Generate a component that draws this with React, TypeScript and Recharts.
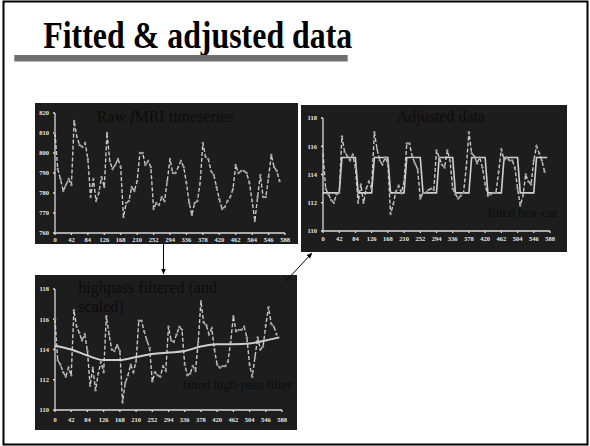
import { LineChart, Line, XAxis, YAxis } from "recharts";

// scan grid: one volume every 7 s
const SCAN_STEP = 7;
const xTicks = [0, 42, 84, 126, 168, 210, 252, 294, 336, 378, 420, 462, 504, 546, 588];
const rawTicks = [760, 770, 780, 790, 800, 810, 820];
const scaledTicks = [110, 112, 114, 116, 118];

const rawValues = [
  810, 792, 787, 781, 784, 787, 784, 816, 808, 804,
  803, 805, 797, 778, 787, 776, 780, 788, 783, 810,
  796, 792, 794, 797, 793, 768, 775, 776, 783, 781,
  786, 800, 800, 794, 796, 793, 772, 775, 774, 778,
  776, 786, 797, 790, 790, 793, 796, 793, 785, 775,
  769, 775, 776, 785, 805, 798, 797, 791, 789, 783,
  777, 772, 773, 776, 778, 782, 794, 790, 791, 791,
  790, 785, 776, 766, 778, 789, 778, 778, 788, 799,
  793, 791, 786,
];

const highpassValues = [
  116.0, 113.3, 113.0, 112.5, 112.2, 112.8, 112.3, 116.6, 115.5, 115.1,
  114.6, 115.0, 113.9, 111.6, 112.8, 111.3, 112.4, 113.2, 112.5, 116.2,
  115.0, 114.0, 113.9, 114.3, 113.9, 110.5, 111.8, 112.3, 113.0, 112.5,
  113.2, 115.9, 115.9, 115.2, 114.6, 114.1, 111.9, 112.5, 112.3, 112.2,
  112.9, 112.6, 115.5, 114.6, 114.5, 115.0, 115.5, 115.3, 113.0, 112.3,
  112.4, 112.9, 112.6, 114.5, 117.2, 115.8, 115.6, 115.0, 115.4, 114.0,
  113.0, 112.8, 112.9, 112.9, 113.2, 114.5, 116.2, 115.2, 115.3, 115.3,
  115.5, 114.8, 113.0, 112.2, 113.5, 114.8, 114.0, 114.2, 115.6, 116.8,
  115.7, 115.5, 115.0,
];

const adjustedValues = [
  115.5, 113.0, 112.6, 112.2, 112.0, 112.6, 112.7, 116.7, 115.6, 115.3,
  115.0, 115.4, 114.5, 112.0, 113.3, 112.0, 113.0, 113.5, 113.0, 117.0,
  115.8, 115.0, 114.7, 115.2, 114.8, 111.2, 111.9, 112.8, 113.2, 112.7,
  113.5, 116.2, 116.2, 115.3, 114.8, 114.4, 112.3, 112.7, 112.7, 112.9,
  113.0, 112.9, 115.7, 115.2, 114.7, 114.5, 115.7, 115.0, 113.0, 112.6,
  112.3, 112.5, 112.7, 114.5, 117.0, 115.5, 115.3, 114.8, 115.2, 114.5,
  113.3, 112.5, 112.6, 112.7, 112.7, 114.2, 115.8, 115.0, 115.2, 115.0,
  115.0, 114.5, 113.0, 111.8, 112.5, 114.0, 113.5, 113.3, 115.0, 116.0,
  115.5, 115.0, 114.2,
];

// fitted box-car, corner points
const boxcarTimes = [0, 42, 49, 84, 91, 126, 133, 168, 175, 210, 217, 252, 259, 294, 301, 336, 343, 378, 385, 420, 427, 462, 469, 504, 511, 546, 553, 581];
const boxcarLevels = [
  112.7, 112.7, 115.2, 115.2, 112.7, 112.7, 115.2, 115.2, 112.7, 112.7,
  115.2, 115.2, 112.7, 112.7, 115.2, 115.2, 112.7, 112.7, 115.2, 115.2,
  112.7, 112.7, 115.2, 115.2, 112.7, 112.7, 115.2, 115.2,
];

// fitted high-pass (slow drift)
const driftTimes = [0, 42, 84, 126, 168, 210, 252, 294, 336, 378, 420, 462, 504, 546, 581];
const driftLevels = [114.25, 114.0, 113.6, 113.3, 113.3, 113.5, 113.7, 113.8, 113.9, 114.2, 114.35, 114.35, 114.4, 114.6, 114.8];

const toSeries = (vals: number[]) => vals.map((v, i) => ({ t: i * SCAN_STEP, v }));
const toPairs = (ts: number[], vs: number[]) => ts.map((t, i) => ({ t, v: vs[i] }));

const rawData = toSeries(rawValues);
const highpassData = toSeries(highpassValues);
const adjustedData = toSeries(adjustedValues);
const boxcarData = toPairs(boxcarTimes, boxcarLevels);
const driftData = toPairs(driftTimes, driftLevels);

const PANEL_BG = "#1d1d1d";
const AXIS = "#d8d8d8";
const tickStyle = { fill: "#e6e6e6", fontSize: 6.5, fontFamily: "Liberation Serif", fontWeight: 700 };

const dashed = {
  type: "linear" as const,
  dataKey: "v",
  stroke: "#c8c8c8",
  strokeWidth: 1.4,
  strokeDasharray: "4 2",
  dot: { r: 1.2, fill: "#9c9c9c", strokeWidth: 0 },
  isAnimationActive: false,
};

interface PanelProps {
  left: number;
  top: number;
  width: number;
  height: number;
  margin: { top: number; right: number };
  yWidth: number;
  xHeight: number;
  xTickMargin: number;
  domain: [number, number];
  yTicks: number[];
  children: React.ReactNode;
}

const Panel = ({ left, top, width, height, margin, yWidth, xHeight, xTickMargin, domain, yTicks, children }: PanelProps) => (
  <div style={{ position: "absolute", left, top, width, height, background: PANEL_BG }}>
    <LineChart width={width} height={height} margin={{ top: margin.top, right: margin.right, bottom: 0, left: 0 }}>
      <XAxis
        type="number"
        dataKey="t"
        domain={[0, 588]}
        ticks={xTicks}
        interval={0}
        height={xHeight}
        stroke={AXIS}
        strokeWidth={1.3}
        tickSize={2}
        tickMargin={xTickMargin}
        tick={tickStyle}
      />
      <YAxis
        type="number"
        domain={domain}
        ticks={yTicks}
        interval={0}
        width={yWidth}
        stroke={AXIS}
        strokeWidth={1.3}
        tickSize={2}
        tickMargin={4}
        tick={tickStyle}
      />
      {children}
    </LineChart>
  </div>
);

const serif = "Liberation Serif, Times New Roman, serif";

export default function App() {
  return (
    <div style={{ position: "absolute", left: 0, top: 0, width: 590, height: 446, background: "#fff", overflow: "hidden" }}>
      <Panel left={35} top={103} width={263} height={141} margin={{ top: 10, right: 13 }} yWidth={20} xHeight={11} xTickMargin={2} domain={[760, 820]} yTicks={rawTicks}>
        <Line data={rawData} {...dashed} />
      </Panel>

      <Panel left={301} top={105} width={266} height={147} margin={{ top: 13, right: 17 }} yWidth={22} xHeight={21} xTickMargin={3} domain={[110, 118]} yTicks={scaledTicks}>
        <Line data={boxcarData} type="linear" dataKey="v" stroke="#cfcfcf" strokeWidth={1.6} dot={false} isAnimationActive={false} />
        <Line data={adjustedData} {...dashed} />
      </Panel>

      <Panel left={35} top={275} width={262} height={155} margin={{ top: 14, right: 15 }} yWidth={20} xHeight={20} xTickMargin={5} domain={[110, 118]} yTicks={scaledTicks}>
        <Line data={highpassData} {...dashed} />
        <Line data={driftData} type="monotone" dataKey="v" stroke="#cfcfcf" strokeWidth={2} dot={false} isAnimationActive={false} />
      </Panel>

      <svg width={590} height={446} style={{ position: "absolute", left: 0, top: 0, pointerEvents: "none" }}>
        <defs>
          <marker id="head" viewBox="0 0 10 10" refX="9" refY="5" markerWidth="6" markerHeight="6" orient="auto">
            <path d="M0,1 L10,5 L0,9 z" fill="#000" />
          </marker>
        </defs>
        <rect x={3.5} y={1.5} width={584} height={443} fill="none" stroke="#000" strokeWidth={2} />
        <text x={43.3} y={48.3} fontFamily={serif} fontWeight={700} fontSize={37} textLength={309} lengthAdjust="spacingAndGlyphs" fill="#000">
          Fitted &amp; adjusted data
        </text>
        <rect x={14.3} y={55} width={333.4} height={6.5} fill="#707070" />

        <text x={96.7} y={121.7} fontFamily={serif} fontSize={16} fill="#0c0c0c">
          Raw <tspan fontStyle="italic">f</tspan>MRI timeseries
        </text>
        <text x={396.7} y={122.3} fontFamily={serif} fontSize={16} fill="#0c0c0c">Adjusted data</text>
        <text x={487.7} y={216.7} fontFamily={serif} fontSize={13} fill="#0c0c0c">fitted box-car</text>
        <text x={78.3} y={293.3} fontFamily={serif} fontSize={16} fill="#0c0c0c">highpass filtered (and</text>
        <text x={78.3} y={311.7} fontFamily={serif} fontSize={16} fill="#0c0c0c">scaled)</text>
        <text x={182.7} y={389} fontFamily={serif} fontSize={13} fill="#0c0c0c">fitted high-pass filter</text>

        <line x1={163.5} y1={244} x2={163.5} y2={274} stroke="#000" strokeWidth={1} markerEnd="url(#head)" />
        <line x1={286} y1={281} x2={312} y2={253} stroke="#000" strokeWidth={1} markerEnd="url(#head)" />
      </svg>
    </div>
  );
}
